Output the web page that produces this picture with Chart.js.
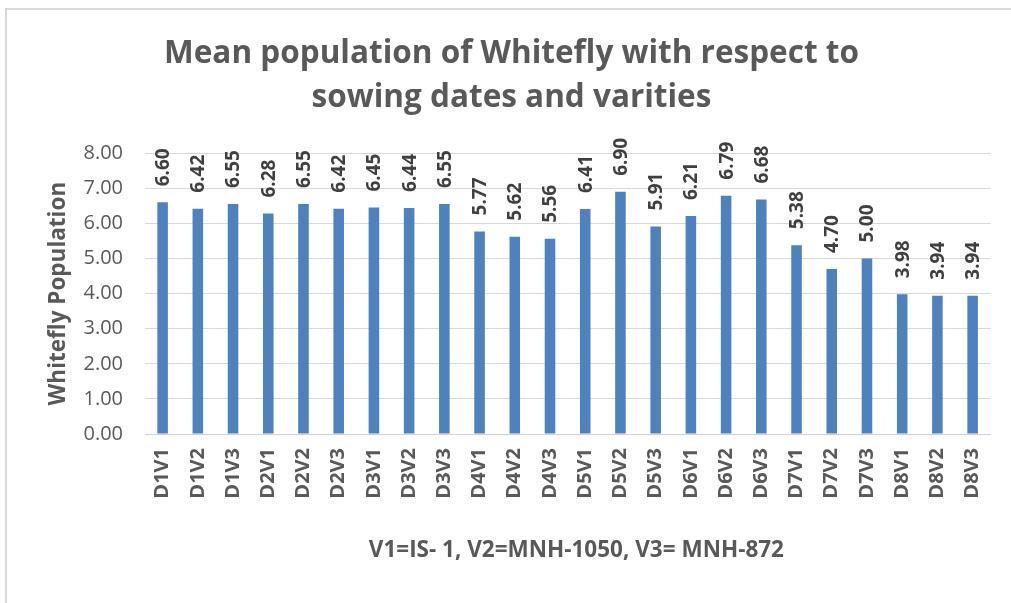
<!DOCTYPE html>
<html>
<head>
<meta charset="utf-8">
<script src="https://cdn.jsdelivr.net/npm/chart.js@4"></script>
<style>
  html, body { margin: 0; padding: 0; background: #fff; }
  #wrap { position: relative; width: 1011px; height: 603px; overflow: hidden; }
  #frame { position: absolute; left: 5px; top: 8px; width: 1100px; height: 700px;
           border-top: 2px solid #d9d9d9; border-left: 2px solid #d9d9d9; }
  canvas { position: absolute; left: 0; top: 0; }
</style>
</head>
<body>
<div id="wrap">
  <div id="frame"></div>
  <canvas id="chart" width="1011" height="603"></canvas>
</div>
<script>
  'use strict';

  const categories = [
    'D1V1', 'D1V2', 'D1V3', 'D2V1', 'D2V2', 'D2V3', 'D3V1', 'D3V2', 'D3V3',
    'D4V1', 'D4V2', 'D4V3', 'D5V1', 'D5V2', 'D5V3', 'D6V1', 'D6V2', 'D6V3',
    'D7V1', 'D7V2', 'D7V3', 'D8V1', 'D8V2', 'D8V3'
  ];
  const population = [
    6.60, 6.42, 6.55, 6.28, 6.55, 6.42, 6.45, 6.44, 6.55,
    5.77, 5.62, 5.56, 6.41, 6.90, 5.91, 6.21, 6.79, 6.68,
    5.38, 4.70, 5.00, 3.98, 3.94, 3.94
  ];
  const yTicks = [0, 1, 2, 3, 4, 5, 6, 7, 8];

  const FONT = '"Open Sans", sans-serif';
  const GREY = '#595959';

  // value labels, rotated, sitting on top of each bar
  const barLabels = {
    id: 'barLabels',
    afterDatasetsDraw: function (chart) {
      var ctx = chart.ctx;
      var meta = chart.getDatasetMeta(0);
      ctx.save();
      ctx.font = 'bold 19px ' + FONT;
      ctx.fillStyle = '#404040';
      ctx.textAlign = 'left';
      ctx.textBaseline = 'middle';
      meta.data.forEach(function (bar, i) {
        ctx.save();
        ctx.translate(bar.x + 1, bar.y - 16);
        ctx.rotate(-Math.PI / 2);
        ctx.fillText(population[i].toFixed(2), 0, 0);
        ctx.restore();
      });
      ctx.restore();
    }
  };

  new Chart(document.getElementById('chart'), {
    type: 'bar',
    data: {
      labels: categories,
      datasets: [{
        data: population,
        backgroundColor: '#4f81bd',
        borderWidth: 0,
        barPercentage: 0.3,
        categoryPercentage: 1.0
      }]
    },
    options: {
      responsive: false,
      animation: false,
      layout: { padding: { left: 30, right: 18, top: 0, bottom: 0 } },
      plugins: {
        legend: { display: false },
        tooltip: { enabled: false },
        title: {
          display: true,
          text: ['Mean population of Whitefly with respect to', 'sowing dates and varities'],
          color: GREY,
          font: { family: FONT, size: 31.5, weight: 'bold', lineHeight: 1.4 },
          padding: { top: 32, bottom: 33 }
        }
      },
      scales: {
        x: {
          grid: { display: false, drawTicks: false },
          border: { display: true, color: '#d0d0d0', width: 1 },
          ticks: {
            color: GREY,
            font: { family: FONT, size: 20, weight: 'bold' },
            minRotation: 90,
            maxRotation: 90,
            padding: 14,
            autoSkip: false
          },
          title: {
            display: true,
            text: '   V1=IS- 1, V2=MNH-1050, V3= MNH-872',
            color: GREY,
            font: { family: FONT, size: 22.5, weight: 'bold', lineHeight: 1.2 },
            padding: { top: 0, bottom: 39 }
          },
          afterFit: function (scale) { scale.height = 169; }
        },
        y: {
          min: 0,
          max: 8,
          afterBuildTicks: function (scale) {
            scale.ticks = yTicks.map(function (v) { return { value: v }; });
          },
          grid: { color: '#d9d9d9', lineWidth: 1, drawTicks: false },
          border: { display: false },
          ticks: {
            color: GREY,
            font: { family: FONT, size: 20 },
            padding: 22,
            callback: function (v) { return Number(v).toFixed(2); }
          },
          title: {
            display: true,
            text: 'Whitefly Population',
            color: GREY,
            font: { family: FONT, size: 22.5, weight: 'bold', lineHeight: 1.2 },
            padding: { top: 15, bottom: 0 }
          },
          afterFit: function (scale) { scale.width = 115; }
        }
      }
    },
    plugins: [barLabels]
  });
</script>
</body>
</html>
